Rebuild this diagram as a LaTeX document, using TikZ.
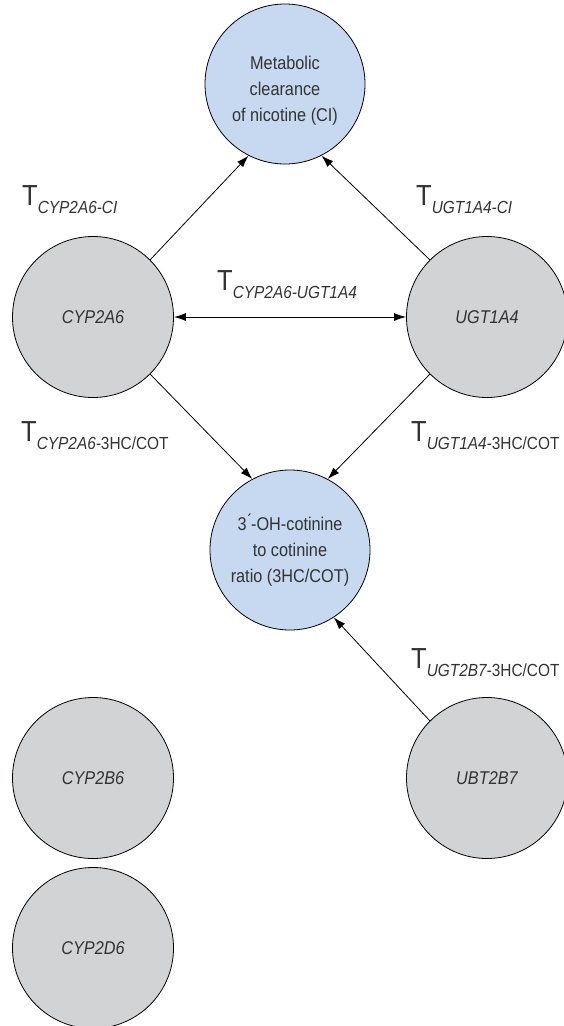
\documentclass[tikz,border=0pt]{standalone}
\usepackage{fontspec}
\setmainfont[FakeStretch=0.88]{Liberation Sans}
\usetikzlibrary{arrows.meta}
\definecolor{bluefill}{HTML}{C6D9F1}
\definecolor{grayfill}{HTML}{D1D3D4}
\definecolor{txt}{HTML}{333333}
\newcommand{\Tlab}[1]{{\fontsize{29}{29}\selectfont T}\raisebox{-8pt}{\fontsize{17.5}{20}\selectfont #1}}
\begin{document}
\begin{tikzpicture}[x=1pt,y=-1pt,
  outcome/.style={circle,draw=black,line width=0.8pt,fill=bluefill,minimum size=160pt,inner sep=0pt,align=center,text=txt,font=\fontsize{18.5}{26}\selectfont},
  gene/.style={circle,draw=black,line width=0.8pt,fill=grayfill,minimum size=161pt,inner sep=0pt,text=txt,font=\fontsize{18.5}{22}\selectfont\itshape},
  link/.style={line width=0.8pt,-{Latex[length=12pt,width=8pt]}},
  lab/.style={anchor=base west,inner sep=0pt,text=txt}]
\useasboundingbox (0,0) rectangle (563,1026);
\node[outcome] (cl) at (285,84) {\raisebox{-6pt}[\height][\depth]{\begin{tabular}{@{}c@{}}Metabolic\\clearance\\of nicotine (CI)\end{tabular}}};
\node[outcome] (ratio) at (290,550) {3\'{}-OH-cotinine\\to cotinine\\ratio (3HC/COT)};
\node[gene] (cyp2a6) at (93,317) {CYP2A6};
\node[gene] (ugt) at (487,317) {UGT1A4};
\node[gene] (cyp2b6) at (93,778) {CYP2B6};
\node[gene] (ubt) at (487,778) {UBT2B7};
\node[gene] (cyp2d6) at (93,948) {CYP2D6};
\draw[link] (cyp2a6.45) -- (cl.243);
\draw[link] (ugt.135) -- (cl.297);
\draw[link,{Latex[length=12pt,width=8pt]}-{Latex[length=12pt,width=8pt]}] (cyp2a6) -- (ugt);
\draw[link] (cyp2a6.-45) -- (ratio.118);
\draw[link] (ugt.-135) -- (ratio.62);
\draw[link] (ubt.135) -- (ratio.-57);
\node[lab] (l1) at (22,205) {\Tlab{\itshape CYP2A6-CI}};
\node[lab] (l2) at (416,205) {\Tlab{\itshape UGT1A4-CI}};
\node[lab] (l3) at (217,290) {\Tlab{\itshape CYP2A6-UGT1A4}};
\node[lab] (l4) at (21,441) {\Tlab{\textit{CYP2A6-}3HC/COT}};
\node[lab] (l5) at (411,441) {\Tlab{\textit{UGT1A4-}3HC/COT}};
\node[lab] (l6) at (411,668) {\Tlab{\textit{UGT2B7-}3HC/COT}};
\end{tikzpicture}
\end{document}
